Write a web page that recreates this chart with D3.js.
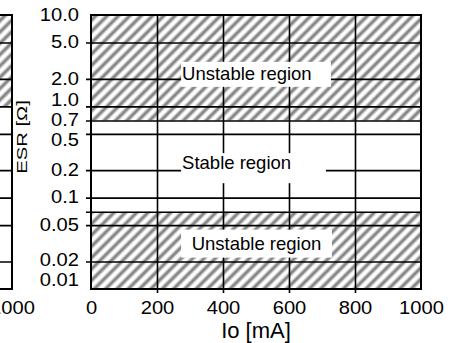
<!DOCTYPE html>
<html>
<head>
<meta charset="utf-8">
<script src="https://cdn.jsdelivr.net/npm/d3@7"></script>
<style>
  body { margin: 0; background: #fff; }
  svg { display: block; font-family: "Liberation Sans", Arial, sans-serif; }
</style>
</head>
<body>
<div id="chart"></div>
<script>
// ESR stability chart: output current vs. ESR of the output capacitor

const xTicks = [0, 200, 400, 600, 800, 1000];
const xGrid = [200, 400, 600, 800];
const esrGrid = [5, 2, 1, 0.7, 0.5, 0.2, 0.1, 0.07, 0.05, 0.02];
const esrLabels = [10, 5, 2, 1, 0.7, 0.5, 0.2, 0.1, 0.05, 0.02, 0.01];
// unstable bands as [low ESR, high ESR]
const unstableBands = [[0.7, 10], [0.01, 0.07]];
const regionNames = ["Unstable region", "Stable region", "Unstable region"];
const regionESR = [2.0, 0.2, 0.027];

// the neighbouring chart that is cut off at the left edge
const prevGrid = [5, 2, 1, 0.5, 0.2, 0.1, 0.05, 0.02];
const prevUnstable = [[1, 10]];

const width = 463, height = 343;
const margin = { top: 15, right: 42, bottom: 54, left: 91 };
const w = width - margin.left - margin.right;
const h = height - margin.top - margin.bottom;

const svg = d3.select("#chart").append("svg")
    .attr("width", width)
    .attr("height", height);

// hatch pattern with soft grey stripes
const defs = svg.append("defs");
const grad = defs.append("linearGradient")
    .attr("id", "stripe")
    .attr("x1", 0).attr("x2", 1).attr("y1", 0).attr("y2", 0);
[[0, "#fff"], [0.15, "#fff"], [0.42, "#858585"], [0.58, "#858585"], [0.85, "#fff"], [1, "#fff"]]
    .forEach(s => grad.append("stop").attr("offset", s[0]).attr("stop-color", s[1]));
defs.append("pattern")
    .attr("id", "hatch")
    .attr("patternUnits", "userSpaceOnUse")
    .attr("width", 8).attr("height", 8)
    .attr("patternTransform", "rotate(45)")
    .append("rect")
    .attr("width", 8).attr("height", 8)
    .attr("fill", "url(#stripe)");

const x = d3.scaleLinear().domain([0, 1000]).range([0, w]);
const y = d3.scaleLog().domain([0.01, 10]).range([h, 0]);
const fmtX = d3.format("d");

// stretch text horizontally around its anchor
function stretch(sel, k) {
    sel.attr("transform", function() {
        const tx = +this.getAttribute("x") || 0, ty = +this.getAttribute("y") || 0;
        return `translate(${tx},${ty}) scale(${k},1) translate(${-tx},${-ty})`;
    });
}

// push crowded labels apart
function spreadLabels(pos, gap, lo, hi) {
    const p = pos.slice();
    for (let it = 0; it < 300; it++) {
        for (let i = 0; i < p.length - 1; i++) {
            const d = p[i + 1] - p[i];
            if (d < gap) {
                const m = (gap - d) / 2;
                p[i] -= m;
                p[i + 1] += m;
            }
        }
        p[0] = Math.max(p[0], lo);
        p[p.length - 1] = Math.min(p[p.length - 1], hi);
    }
    return p;
}

// ---- neighbouring chart (only its right edge is visible) ----
const prevRight = 12;
const xPrev = d3.scaleLinear().domain([0, 1000]).range([prevRight - w, prevRight]);
const prev = svg.append("g").attr("transform", `translate(0,${margin.top})`);

prev.selectAll(".band")
    .data(prevUnstable)
    .join("rect")
    .attr("x", xPrev(0))
    .attr("width", xPrev(1000) - xPrev(0))
    .attr("y", d => y(d[1]))
    .attr("height", d => y(d[0]) - y(d[1]))
    .attr("fill", "url(#hatch)");

prev.append("g")
    .attr("transform", `translate(${xPrev(0)},0)`)
    .call(d3.axisLeft(y).tickValues(prevGrid).tickSize(-w).tickFormat(""))
    .call(g => g.select(".domain").remove())
    .call(g => g.selectAll(".tick line").attr("stroke", "#000").attr("stroke-width", 1.6));

prev.append("rect")
    .attr("x", xPrev(0)).attr("y", 0)
    .attr("width", w).attr("height", h)
    .attr("fill", "none")
    .attr("stroke", "#000")
    .attr("stroke-width", 2);

prev.append("g")
    .attr("transform", `translate(0,${h})`)
    .call(d3.axisBottom(xPrev).tickValues([1000]).tickSize(0).tickPadding(12).tickFormat(fmtX))
    .call(g => g.select(".domain").remove())
    .call(g => g.selectAll("text").attr("fill", "#000").attr("font-size", 18)
        .attr("font-family", "Liberation Sans, Arial, sans-serif")
        .call(t => stretch(t, 1.12)));

// ---- main chart ----
const g = svg.append("g").attr("transform", `translate(${margin.left},${margin.top})`);

g.selectAll(".band")
    .data(unstableBands)
    .join("rect")
    .attr("x", 0)
    .attr("width", w)
    .attr("y", d => y(d[1]))
    .attr("height", d => y(d[0]) - y(d[1]))
    .attr("fill", "url(#hatch)");

// horizontal grid with short ticks on the left
g.append("g")
    .call(d3.axisLeft(y).tickValues(esrGrid).tickSize(-w).tickFormat(""))
    .call(a => a.select(".domain").remove())
    .call(a => a.selectAll(".tick line").attr("x1", -5).attr("stroke", "#000").attr("stroke-width", 1.6));

// vertical grid with short ticks below
g.append("g")
    .attr("transform", `translate(0,${h})`)
    .call(d3.axisBottom(x).tickValues(xGrid).tickSize(-h).tickFormat(""))
    .call(a => a.select(".domain").remove())
    .call(a => a.selectAll(".tick line").attr("y1", 4).attr("stroke", "#000").attr("stroke-width", 1.6));

// region labels on white boxes
const boxes = [
    { x0: 273, x1: 727, top: 17, bottom: 8, dy: 1, anchor: "start" },
    { x0: 273, x1: 712, top: 17, bottom: 13, dy: -1, anchor: "start" },
    { x0: 273, x1: 730, top: 20, bottom: 8, dy: 0, anchor: "middle" }
];
regionNames.forEach((name, i) => {
    const b = boxes[i];
    const yb = y(regionESR[i]);
    g.append("rect")
        .attr("x", x(b.x0))
        .attr("y", yb - b.top)
        .attr("width", x(b.x1) - x(b.x0))
        .attr("height", b.top + b.bottom)
        .attr("fill", "#fff");
    g.append("text")
        .attr("x", b.anchor === "start" ? x(b.x0) + 1 : (x(b.x0) + x(b.x1)) / 2)
        .attr("y", yb + b.dy)
        .attr("text-anchor", b.anchor)
        .attr("font-size", 18.5)
        .attr("fill", "#000")
        .text(name);
});

// frame
g.append("rect")
    .attr("width", w)
    .attr("height", h)
    .attr("fill", "none")
    .attr("stroke", "#000")
    .attr("stroke-width", 2);

// y tick labels, spread where they would overlap
const yLab = g.append("g")
    .call(d3.axisLeft(y).tickValues(esrLabels).tickSize(0).tickPadding(12)
        .tickFormat(d => d >= 0.1 ? d.toFixed(1) : d.toFixed(2)))
    .call(a => a.select(".domain").remove());
const labelPos = spreadLabels(esrLabels.map(d => y(d)), 20, 0, h - 9);
yLab.selectAll(".tick").attr("transform", (d, i) => `translate(0,${labelPos[i]})`);
yLab.selectAll("text")
    .attr("fill", "#000")
    .attr("font-size", 18)
    .attr("font-family", "Liberation Sans, Arial, sans-serif")
    .call(t => stretch(t, 1.12));

// x tick labels
g.append("g")
    .attr("transform", `translate(0,${h})`)
    .call(d3.axisBottom(x).tickValues(xTicks).tickSize(0).tickPadding(12).tickFormat(fmtX))
    .call(a => a.select(".domain").remove())
    .call(a => a.selectAll("text").attr("fill", "#000").attr("font-size", 18)
        .attr("font-family", "Liberation Sans, Arial, sans-serif")
        .call(t => stretch(t, 1.12)));

// axis titles
g.append("text")
    .attr("x", w / 2)
    .attr("y", h + 49)
    .attr("text-anchor", "middle")
    .attr("font-size", 22)
    .attr("fill", "#000")
    .text("Io [mA]");

svg.append("text")
    .attr("transform", "translate(27,137) rotate(-90) scale(1.35,1)")
    .attr("text-anchor", "middle")
    .attr("font-size", 15)
    .attr("fill", "#000")
    .text("ESR [Ω]");
</script>
</body>
</html>
